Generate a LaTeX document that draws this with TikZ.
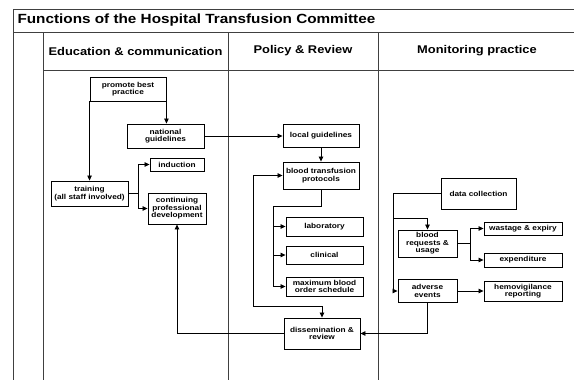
\documentclass[tikz,border=0pt]{standalone}
\usepackage{fontspec}
\setmainfont{Liberation Sans}[FakeStretch=1.15]
\usetikzlibrary{arrows.meta}

\tikzset{
  box/.style={draw, line width=0.9pt, align=center, inner sep=0pt,
    font=\fontsize{7.2}{7.6}\selectfont\bfseries},
  head/.style={font=\fontsize{11.2}{13}\selectfont\bfseries},
  lane/.style={draw=black!75, line width=1pt},
  flow/.style={->, line width=0.8pt}
}

\begin{document}
\begin{tikzpicture}[x=1pt, y=-1pt, >={Triangle[length=5pt,width=4.5pt]}]
    \useasboundingbox (0,0) rectangle (574,380);

    % Frame
    \draw[lane] (574,9) -- (13,9) -- (13,380);
    \draw[lane] (13,32) -- (574,32);
    \draw[lane] (43,70) -- (574,70);
    \draw[lane] (43,32) -- (43,380);
    \draw[lane] (228,32) -- (228,380);
    \draw[lane] (378,32) -- (378,380);

    % Titles
    \node[anchor=west, font=\fontsize{13.3}{15}\selectfont\bfseries] (title) at (14,20.5) {Functions of the Hospital Transfusion Committee};
    \node[head] (hedu) at (135.5,51) {Education \& communication};
    \node[head] (hpol) at (303,51) {Policy \& Review};
    \node[head] (hmon) at (477,51) {Monitoring practice};

    % Nodes
    \node[box, minimum width=76pt, minimum height=24pt] (promote) at (128,89) {promote best\\practice};
    \node[box, minimum width=77pt, minimum height=24pt] (national) at (165.5,136) {national\\guidelines};
    \node[box, minimum width=54pt, minimum height=13pt] (induction) at (177,164.5) {induction};
    \node[box, minimum width=58pt, minimum height=31pt] (cpd) at (177,208.5) {continuing\\professional\\development};
    \node[box, minimum width=77pt, minimum height=25pt] (training) at (89.5,193.5) {training\\(all staff involved)};

    \node[box, minimum width=76pt, minimum height=23pt] (local) at (321,136) {local guidelines};
    \node[box, minimum width=76pt, minimum height=27pt] (protocols) at (321,175.5) {blood transfusion\\protocols};
    \node[box, minimum width=77pt, minimum height=19pt] (lab) at (324.5,226.5) {laboratory};
    \node[box, minimum width=77pt, minimum height=18pt] (clinical) at (324.5,255) {clinical};
    \node[box, minimum width=77pt, minimum height=19pt] (mbos) at (324.5,286.5) {maximum blood\\order schedule};
    \node[box, minimum width=76pt, minimum height=31pt] (dissem) at (322,333.5) {dissemination \&\\review};

    \node[box, minimum width=75pt, minimum height=31pt] (datacoll) at (478.5,193.5) {data collection};
    \node[box, minimum width=59pt, minimum height=27pt] (requests) at (427.5,243.5) {blood\\requests \&\\usage};
    \node[box, minimum width=78pt, minimum height=13pt] (wastage) at (523,228.5) {wastage \& expiry};
    \node[box, minimum width=78pt, minimum height=14pt] (expend) at (523,260) {expenditure};
    \node[box, minimum width=59pt, minimum height=23pt] (adverse) at (427.5,291) {adverse\\events};
    \node[box, minimum width=78pt, minimum height=20pt] (hemo) at (523,291) {hemovigilance\\reporting};

    % Branch points
    \coordinate (tfork) at (138,193.5);
    \coordinate (pfork) at (273,206);
    \coordinate (loop) at (253,306);
    \coordinate (mleft) at (393,193.5);
    \coordinate (mbranch) at (393,218);
    \coordinate (rfork) at (470,243.5);

    % Lines
    \draw[flow] (promote.south west) -- (promote.south west |- training.north);
    \draw[flow] (promote.south east) -- (promote.south east |- national.north);
    \draw[flow] (national.east) -- (local.west);
    \draw[flow] (local.south) -- (protocols.north);

    \draw[line width=0.8pt] (training.east) -- (tfork);
    \draw[flow] (tfork) |- (induction.west);
    \draw[flow] (tfork) |- (cpd.west);

    \draw[line width=0.8pt] (protocols.south) |- (pfork);
    \draw[flow] (pfork) |- (lab.west);
    \draw[flow] (pfork) |- (clinical.west);
    \draw[flow] (pfork) |- (mbos.west);

    \draw[flow, <->] (dissem.north) |- (loop) |- (protocols.west);
    \draw[flow] (dissem.west) -| (cpd.south);

    \draw[flow] (datacoll.west) -- (mleft) |- (adverse.west);
    \draw[flow] (mbranch) -| (requests.north);
    \draw[line width=0.8pt] (requests.east) -- (rfork);
    \draw[flow] (rfork) |- (wastage.west);
    \draw[flow] (rfork) |- (expend.west);
    \draw[flow] (adverse.east) -- (hemo.west);
    \draw[flow] (adverse.south) |- (dissem.east);
\end{tikzpicture}
\end{document}
